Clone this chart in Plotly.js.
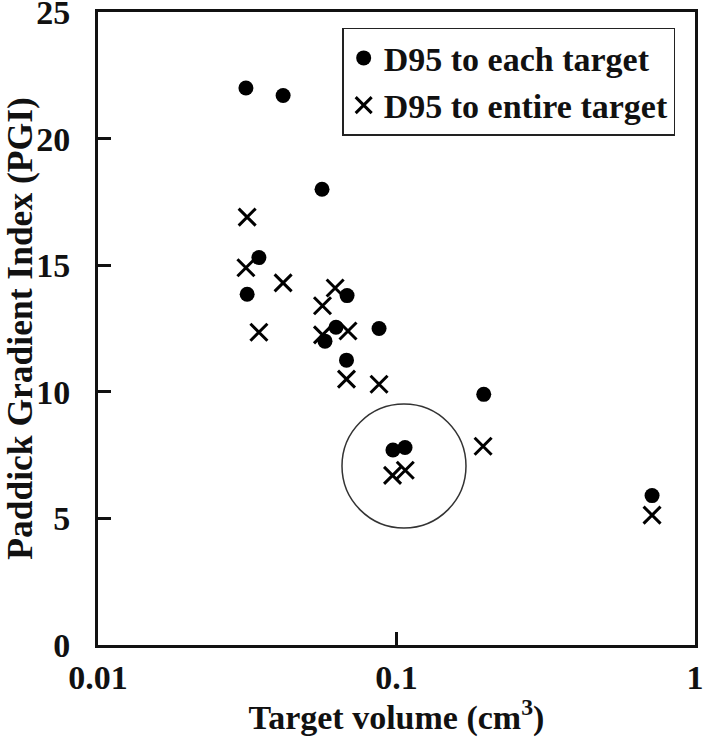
<!DOCTYPE html>
<html>
<head>
<meta charset="utf-8">
<script src="https://cdn.plot.ly/plotly-3.0.1.min.js"></script>
<style>
  body { margin: 0; background: #fff; }
  #plot { width: 703px; height: 737px; }
</style>
</head>
<body>
<div id="plot"></div>
<script>
// D95 to each target (dots)
var eachVolume = [0.0313, 0.0417, 0.0563, 0.0346, 0.0316, 0.0683, 0.0627, 0.0576, 0.0874, 0.068, 0.196, 0.0973, 0.1068, 0.718];
var eachPGI = [22.0, 21.7, 18.0, 15.3, 13.85, 13.8, 12.55, 12.0, 12.5, 11.25, 9.9, 7.7, 7.8, 5.9];

// D95 to entire target (crosses)
var entireVolume = [0.0316, 0.0313, 0.0417, 0.0346, 0.0565, 0.0565, 0.0623, 0.0688, 0.068, 0.0874, 0.195, 0.097, 0.107, 0.718];
var entirePGI = [16.9, 14.9, 14.3, 12.35, 13.4, 12.25, 14.1, 12.4, 10.5, 10.3, 7.85, 6.7, 6.9, 5.13];

var xTicks = [0.01, 0.1, 1];
var xTickText = ['0.01', '0.1', '1'];
var yTicks = [0, 5, 10, 15, 20, 25];

var serif = {family: '"Liberation Serif", "Times New Roman", serif', weight: 'bold', color: '#111'};

var dots = {
    x: eachVolume,
    y: eachPGI,
    mode: 'markers',
    type: 'scatter',
    name: 'D95 to each target',
    marker: {symbol: 'circle', size: 15, color: '#000'}
};
var crosses = {
    x: entireVolume,
    y: entirePGI,
    mode: 'markers',
    type: 'scatter',
    name: 'D95 to entire target',
    marker: {symbol: 'x-thin', size: 17, color: '#000', line: {width: 3, color: '#000'}}
};

var layout = {
    width: 703,
    height: 737,
    margin: {l: 98, r: 8, t: 12, b: 92},
    paper_bgcolor: '#fff',
    plot_bgcolor: '#fff',
    showlegend: true,
    legend: {
        x: 0.409, y: 0.975, xanchor: 'left', yanchor: 'top',
        bgcolor: '#fff', bordercolor: '#222', borderwidth: 1.5,
        font: Object.assign({size: 34}, serif),
        tracegroupgap: 0
    },
    xaxis: {
        type: 'log',
        range: [-2, 0],
        tickvals: xTicks,
        ticktext: xTickText,
        ticks: 'inside',
        ticklen: 13,
        tickwidth: 3,
        tickcolor: '#111',
        ticklabeloverflow: 'allow',
        showline: true,
        linewidth: 3,
        linecolor: '#111',
        mirror: true,
        showgrid: false,
        zeroline: false,
        tickfont: Object.assign({size: 34}, serif),
        title: {text: 'Target volume (cm<sup>3</sup>)', font: Object.assign({size: 34}, serif), standoff: 6}
    },
    yaxis: {
        range: [0, 25],
        tickvals: yTicks,
        ticks: 'inside',
        ticklen: 13,
        tickwidth: 3,
        tickcolor: '#111',
        ticklabelstandoff: 18,
        ticklabeloverflow: 'allow',
        showline: true,
        linewidth: 3,
        linecolor: '#111',
        mirror: true,
        showgrid: false,
        zeroline: false,
        tickfont: Object.assign({size: 34}, serif),
        title: {text: 'Paddick Gradient Index (PGI)', font: Object.assign({size: 35.5}, serif), standoff: 4}
    },
    shapes: [{
        type: 'circle',
        xref: 'paper', yref: 'paper',
        x0: 0.4087, x1: 0.6164, y0: 0.1848, y1: 0.3807,
        line: {color: '#333', width: 1.5}
    }]
};

Plotly.newPlot('plot', [dots, crosses], layout, {displayModeBar: false, staticPlot: true});
</script>
</body>
</html>
